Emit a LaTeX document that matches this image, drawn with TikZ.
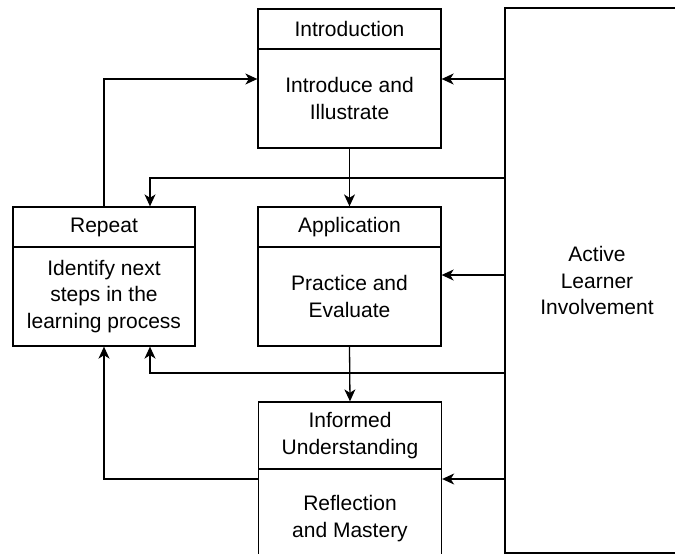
\documentclass[tikz,border=0pt]{standalone}
\usepackage{fontspec}
\setmainfont{Liberation Sans}
\usetikzlibrary{arrows.meta}
\begin{document}
\begin{tikzpicture}[x=1pt,y=-1pt,
  box/.style={draw, line width=1.3pt, minimum width=183pt, inner sep=0pt, align=center, font=\fontsize{21}{26.2}\selectfont},
  arr/.style={line width=1.3pt, -{Stealth[length=12pt,width=11pt,inset=3.5pt]}},
  ln/.style={line width=1.3pt}]
\useasboundingbox (0,0) rectangle (675,554);
\clip (0,0) rectangle (675,554);
% boxes
\node[box, minimum height=40pt] (introH) at (349.5,29) {Introduction};
\node[box, minimum height=99pt] (introB) at (349.5,98.5) {Introduce and\\Illustrate};
\node[box, minimum height=40pt] (appH) at (349.5,227) {Application};
\node[box, minimum height=99pt] (appB) at (349.5,296.5) {Practice and\\Evaluate};
\node[box, minimum height=67pt] (infH) at (350,435.5) {Informed\\Understanding};
\node[box, minimum height=99pt] (infB) at (350,518.5) {Reflection\\and Mastery};
\node[box, minimum width=182pt, minimum height=40pt] (repH) at (104,227) {Repeat};
\node[box, minimum width=182pt, minimum height=99pt] (repB) at (104,296.5) {Identify next\\steps in the\\learning process};
\node[box, minimum width=184pt, minimum height=545pt] (ali) at (597,280.5) {Active\\Learner\\Involvement};
% helper coordinates
\coordinate (yA) at (0,79);
\coordinate (yB) at (0,178);
\coordinate (yC) at (0,275);
\coordinate (yD) at (0,373);
\coordinate (yE) at (0,479);
\coordinate (xR) at (150,0);
% connectors
\draw[arr] (introB.south) -- (appH.north);
\draw[arr] (appB.south) -- (infH.north);
\draw[arr] (ali.west |- yA) -- (introB.east |- yA);
\draw[arr] (ali.west |- yC) -- (appB.east |- yC);
\draw[arr] (ali.west |- yE) -- (infB.east |- yE);
\draw[arr] (ali.west |- yB) -| (repH.north -| xR);
\draw[arr] (ali.west |- yD) -| (repB.south -| xR);
\draw[arr] (repH.north) |- (introB.west |- yA);
\draw[arr] (infB.west |- yE) -| (repB.south);
\end{tikzpicture}
\end{document}
